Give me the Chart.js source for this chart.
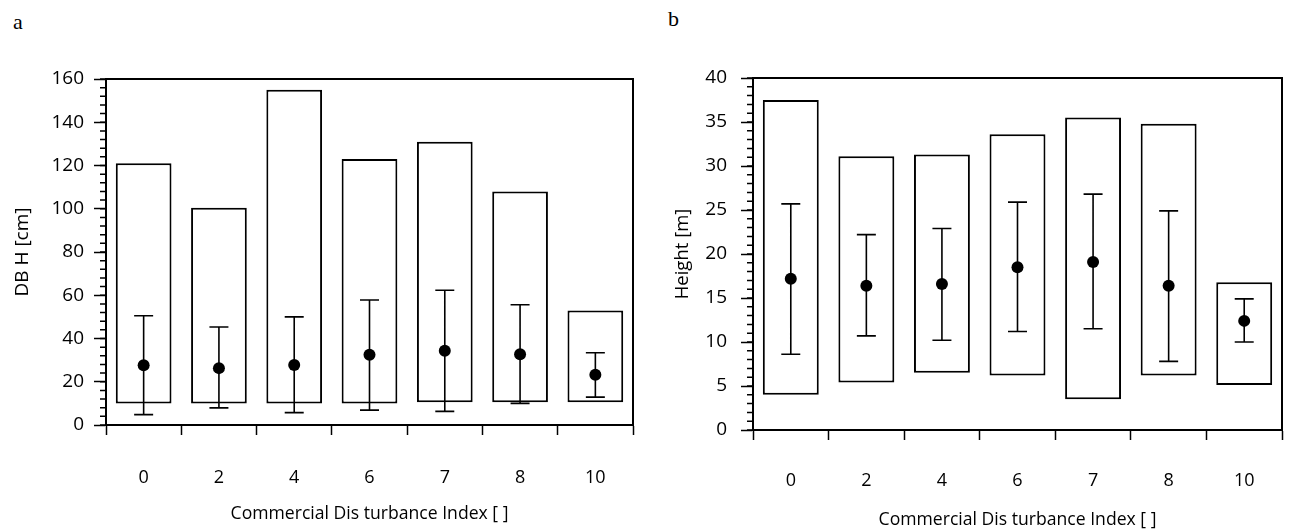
<!DOCTYPE html>
<html>
<head>
<meta charset="utf-8">
<script src="https://cdn.jsdelivr.net/npm/chart.js@4"></script>
<style>
  body{margin:0;background:#fff;width:1290px;height:531px;position:relative;overflow:hidden}
  .panel{position:absolute;top:0;width:645px;height:531px}
  .tag{position:absolute;font-family:"Liberation Serif",serif;font-size:22px;color:#000;line-height:1}
</style>
</head>
<body>
<div class="tag" style="left:13px;top:11px">a</div>
<div class="tag" style="left:668px;top:8px">b</div>
<div class="panel" style="left:0"><canvas id="dbh" width="645" height="531"></canvas></div>
<div class="panel" style="left:645px"><canvas id="height" width="645" height="531"></canvas></div>
<script>
const CDI = ['0', '2', '4', '6', '7', '8', '10'];

// DBH [cm]: min-max box, mean, and error bar ends
const dbhMin  = [10, 10, 10, 10, 10.5, 10.5, 10.5];
const dbhMax  = [121, 100.5, 155, 123, 131, 108, 53];
const dbhMean = [27.6, 26.3, 27.8, 32.5, 34.3, 32.7, 23.2];
const dbhLo   = [4.8, 7.9, 5.7, 6.9, 6.3, 10, 12.9];
const dbhHi   = [50.5, 45.3, 50, 57.8, 62.3, 55.6, 33.4];

// Height [m]
const htMin  = [4, 5.4, 6.5, 6.2, 3.5, 6.2, 5.1];
const htMax  = [37.5, 31.1, 31.3, 33.6, 35.5, 34.8, 16.8];
const htMean = [17.2, 16.4, 16.6, 18.5, 19.1, 16.4, 12.4];
const htLo   = [8.6, 10.7, 10.2, 11.2, 11.5, 7.8, 10];
const htHi   = [25.7, 22.2, 22.9, 25.9, 26.8, 24.9, 14.9];

const X_TITLE = 'Commercial Dis turbance Index [ ]';
const FAMILY = '"Open Sans", sans-serif';
const X_TICK_FONT = { family: FAMILY, size: 18 };
const Y_TICK_FONT = { family: FAMILY, size: 19 };
const X_TITLE_FONT = { family: FAMILY, size: 17.6 };

// whiskers behind the mean dots
const errorBars = {
  id: 'errorBars',
  beforeDatasetDraw(chart, args, opts) {
    if (args.index !== 1) return;
    const y = chart.scales.y, ctx = chart.ctx, c = opts.cap;
    ctx.save();
    ctx.strokeStyle = '#000'; ctx.lineWidth = 1.6;
    ctx.beginPath();
    args.meta.data.forEach((pt, i) => {
      const a = y.getPixelForValue(opts.lo[i]), b = y.getPixelForValue(opts.hi[i]);
      ctx.moveTo(pt.x, a); ctx.lineTo(pt.x, b);
      ctx.moveTo(pt.x - c, a); ctx.lineTo(pt.x + c, a);
      ctx.moveTo(pt.x - c, b); ctx.lineTo(pt.x + c, b);
    });
    ctx.stroke();
    ctx.restore();
  }
};

// short ticks between the labelled ones on y
const minorTicks = {
  id: 'minorTicks',
  afterDraw(chart, args, opts) {
    const y = chart.scales.y, ctx = chart.ctx, x0 = chart.chartArea.left;
    const n = Math.round((y.max - y.min) / opts.step);
    ctx.save();
    ctx.strokeStyle = '#000'; ctx.lineWidth = 1.5;
    ctx.beginPath();
    for (let i = 0; i <= n; i++) {
      const p = y.getPixelForValue(y.min + i * opts.step);
      ctx.moveTo(x0 - opts.len, p); ctx.lineTo(x0, p);
    }
    ctx.stroke();
    ctx.restore();
  }
};

// top and right sides of the plot box
const frame = {
  id: 'frame',
  afterDraw(chart) {
    const { left, top, right, bottom } = chart.chartArea, ctx = chart.ctx;
    ctx.save();
    ctx.strokeStyle = '#000'; ctx.lineWidth = 2;
    ctx.beginPath();
    ctx.moveTo(left, top); ctx.lineTo(right, top); ctx.lineTo(right, bottom);
    ctx.stroke();
    ctx.restore();
  }
};

function makeChart(id, o) {
  return new Chart(document.getElementById(id), {
    data: {
      labels: CDI,
      datasets: [
        { type: 'bar', order: 2, data: o.min.map((m, i) => [m, o.max[i]]),
          backgroundColor: '#fff', borderColor: '#000', borderWidth: 2, borderSkipped: false,
          barPercentage: 0.74, categoryPercentage: 1 },
        { type: 'line', order: 1, data: o.mean, showLine: false,
          pointRadius: 6, pointBackgroundColor: '#000', pointBorderColor: '#000', pointBorderWidth: 0 }
      ]
    },
    options: {
      responsive: false, animation: false,
      layout: { padding: { top: o.top, right: o.right, left: 0, bottom: 0 } },
      plugins: {
        legend: { display: false }, tooltip: { enabled: false },
        errorBars: { lo: o.lo, hi: o.hi, cap: 9.5 },
        minorTicks: { step: o.minor, len: 6 }
      },
      scales: {
        x: {
          grid: { display: true, drawOnChartArea: false, offset: true, tickLength: 10, tickColor: '#000', tickWidth: 1.5 },
          border: { display: true, color: '#000', width: 2 },
          ticks: { color: '#000', font: X_TICK_FONT, padding: o.xTickPad, autoSkip: false, maxRotation: 0 },
          title: { display: true, text: X_TITLE, color: '#000', font: X_TITLE_FONT, padding: { top: 0, bottom: o.titleBottom } },
          afterFit(s) { s.height = o.xHeight; }
        },
        y: {
          min: 0, max: o.yMax,
          grid: { drawOnChartArea: false, tickLength: 12, tickColor: '#000', tickWidth: 1.5 },
          border: { display: true, color: '#000', width: 2 },
          ticks: { stepSize: o.yStep, color: '#000', font: Y_TICK_FONT, padding: o.tickPad },
          title: { display: true, text: o.yTitle, color: '#000', font: { family: FAMILY, size: o.yTitleSize }, padding: { top: o.yTitlePad, bottom: 0 } },
          afterFit(s) { s.width = o.yWidth; }
        }
      }
    },
    plugins: [errorBars, minorTicks, frame]
  });
}

makeChart('dbh', {
  min: dbhMin, max: dbhMax, mean: dbhMean, lo: dbhLo, hi: dbhHi,
  yTitle: 'DB H [cm]', yTitleSize: 19, yMax: 160, yStep: 20, minor: 4,
  top: 79, right: 12, yWidth: 106, xHeight: 106, xTickPad: 32, titleBottom: 6, tickPad: 10, yTitlePad: 11
});

makeChart('height', {
  min: htMin, max: htMax, mean: htMean, lo: htLo, hi: htHi,
  yTitle: 'Height [m]', yTitleSize: 18.5, yMax: 40, yStep: 5, minor: 1,
  top: 78, right: 8, yWidth: 108, xHeight: 101, xTickPad: 30, titleBottom: 0, tickPad: 14, yTitlePad: 27
});
</script>
</body>
</html>
